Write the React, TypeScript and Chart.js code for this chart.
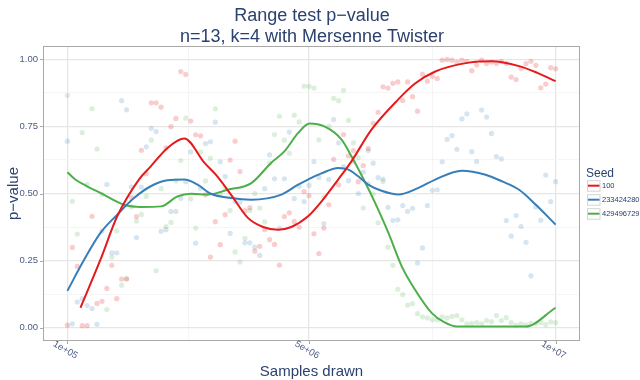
import React, { useEffect, useRef } from "react";
import { Chart, registerables } from "chart.js";

Chart.register(...registerables);

// Samples drawn, in units of 1e5
const samplesE5 = [
  1, 2, 3, 4, 5, 6, 7, 8, 9, 10, 11, 12, 13, 14, 15, 16, 17, 18, 19, 20,
  21, 22, 23, 24, 25, 26, 27, 28, 29, 30, 31, 32, 33, 34, 35, 36, 37, 38, 39, 40,
  41, 42, 43, 44, 45, 46, 47, 48, 49, 50, 51, 52, 53, 54, 55, 56, 57, 58, 59, 60,
  61, 62, 63, 64, 65, 66, 67, 68, 69, 70, 71, 72, 73, 74, 75, 76, 77, 78, 79, 80,
  81, 82, 83, 84, 85, 86, 87, 88, 89, 90, 91, 92, 93, 94, 95, 96, 97, 98, 99, 100,
];

const seedNames = ["100", "233424280", "429496729"];

const pRed = [
  0.009, 0.299, 0.228, 0.007, 0.007, 0.415, 0.09, 0.098, 0.146, 0.232,
  0.108, 0.181, 0.181, 0.486, 0.414, 0.661, 0.574, 0.838, 0.838, 0.822,
  0.67, 0.749, 0.78, 0.955, 0.944, 0.77, 0.719, 0.715, 0.495, 0.263,
  0.395, 0.309, 0.421, 0.625, 0.695, 0.582, 0.436, 0.447, 0.285, 0.303,
  0.365, 0.328, 0.31, 0.233, 0.414, 0.428, 0.396, 0.374, 0.507, 0.492,
  0.35, 0.276, 0.371, 0.458, 0.627, 0.532, 0.72, 0.64, 0.66, 0.544,
  0.604, 0.668, 0.762, 0.803, 0.898, 0.893, 0.911, 0.916, 0.847, 0.916,
  0.861, 0.807, 0.945, 0.919, 0.937, 0.929, 0.997, 1.0, 0.997, 0.989,
  0.997, 0.993, 0.958, 0.979, 0.997, 0.985, 0.99, 0.985, 0.993, 0.985,
  0.934, 0.925, 0.966, 0.984, 0.993, 0.978, 0.894, 0.908, 0.969, 0.965,
];

const pBlue = [
  0.695, 0.014, 0.095, 0.108, 0.082, 0.071, 0.012, 0.36, 0.534, 0.279,
  0.279, 0.846, 0.812, 0.524, 0.336, 0.524, 0.674, 0.743, 0.731, 0.359,
  0.365, 0.433, 0.433, 0.482, 0.544, 0.655, 0.315, 0.52, 0.686, 0.693,
  0.766, 0.618, 0.563, 0.351, 0.47, 0.467, 0.316, 0.316, 0.3, 0.269,
  0.518, 0.644, 0.555, 0.37, 0.555, 0.729, 0.481, 0.527, 0.47, 0.53,
  0.619, 0.56, 0.388, 0.552, 0.776, 0.689, 0.6, 0.548, 0.62, 0.5,
  0.58, 0.66, 0.613, 0.559, 0.554, 0.448, 0.399, 0.402, 0.455, 0.433,
  0.445, 0.241, 0.297, 0.455, 0.512, 0.514, 0.618, 0.702, 0.716, 0.665,
  0.778, 0.797, 0.656, 0.619, 0.811, 0.785, 0.724, 0.638, 0.629, 0.399,
  0.341, 0.418, 0.377, 0.318, 0.193, 0.45, 0.4, 0.569, 0.47, 0.544,
];

const pGreen = [
  0.866, 0.471, 0.349, 0.727, 0.534, 0.816, 0.666, 0.497, 0.067, 0.263,
  0.361, 0.158, 0.183, 0.45, 0.397, 0.422, 0.489, 0.699, 0.212, 0.518,
  0.377, 0.392, 0.547, 0.623, 0.781, 0.48, 0.371, 0.654, 0.547, 0.631,
  0.816, 0.5, 0.52, 0.437, 0.282, 0.245, 0.333, 0.437, 0.5, 0.446,
  0.394, 0.613, 0.72, 0.788, 0.699, 0.65, 0.792, 0.767, 0.9, 0.9,
  0.893, 0.7, 0.487, 0.75, 0.855, 0.846, 0.885, 0.773, 0.689, 0.633,
  0.446, 0.538, 0.498, 0.391, 0.545, 0.3, 0.232, 0.143, 0.123, 0.084,
  0.089, 0.052, 0.04, 0.036, 0.029, 0.029, 0.04, 0.036, 0.042, 0.045,
  0.029, 0.014, 0.016, 0.019, 0.014, 0.026, 0.022, 0.045, 0.026, 0.037,
  0.019, 0.009, 0.014, 0.01, 0.016, 0.014, 0.019, 0.011, 0.021, 0.019,
];

// Smoothed curves, x in units of 1e6
const smoothRedX = [0.365, 0.77, 1.11, 1.55, 1.79, 2.13, 2.47, 2.88, 3.11, 3.42, 3.76, 4.07, 4.37, 4.64, 4.98, 5.25, 5.59, 5.86, 6.27, 6.81, 7.15, 7.56, 8.24, 8.71, 9.26, 9.63, 10.0];
const smoothRedY = [0.074, 0.253, 0.415, 0.552, 0.601, 0.67, 0.705, 0.614, 0.57, 0.495, 0.409, 0.375, 0.365, 0.375, 0.415, 0.47, 0.552, 0.62, 0.739, 0.851, 0.91, 0.955, 0.988, 0.993, 0.975, 0.95, 0.919];

const smoothBlueX = [0.1, 0.43, 0.77, 1.11, 1.45, 1.79, 2.13, 2.47, 2.74, 3.01, 3.42, 3.83, 4.44, 4.78, 4.98, 5.25, 5.59, 5.8, 5.99, 6.2, 6.47, 6.81, 7.22, 7.56, 8.1, 8.58, 8.92, 9.26, 9.6, 10.0];
const smoothBlueY = [0.137, 0.25, 0.353, 0.421, 0.483, 0.527, 0.549, 0.552, 0.533, 0.499, 0.483, 0.477, 0.496, 0.533, 0.552, 0.575, 0.595, 0.589, 0.565, 0.533, 0.51, 0.496, 0.521, 0.552, 0.585, 0.57, 0.545, 0.514, 0.458, 0.384];

const smoothGreenX = [0.1, 0.26, 0.5, 0.77, 1.25, 1.59, 2.0, 2.33, 2.6, 2.95, 3.35, 3.83, 4.23, 4.5, 4.78, 5.01, 5.32, 5.66, 5.86, 6.13, 6.34, 6.61, 6.88, 7.15, 7.49, 7.74, 8.0, 9.39, 10.0];
const smoothGreenY = [0.579, 0.552, 0.527, 0.502, 0.458, 0.45, 0.452, 0.489, 0.499, 0.496, 0.514, 0.539, 0.614, 0.657, 0.726, 0.761, 0.749, 0.701, 0.639, 0.545, 0.465, 0.353, 0.228, 0.141, 0.054, 0.02, 0.004, 0.004, 0.074];

const xMajorTicks = [1e5, 5e6, 1e7];
const xMajorLabels = ["1e+05", "5e+06", "1e+07"];
const xMinorTicks = [2.55e6, 7.5e6];
const yMajorTicks = [0, 0.25, 0.5, 0.75, 1];
const yMajorLabels = ["0.00", "0.25", "0.50", "0.75", "1.00"];
const yMinorTicks = [0.125, 0.375, 0.625, 0.875];

const lineColors = ["#E41A1C", "#377EB8", "#4DAF4A"];
const pointColors = ["rgba(228,26,28,0.22)", "rgba(55,126,184,0.2)", "rgba(77,175,74,0.2)"];

const TITLE_COLOR = "#2B4170";
const TICK_COLOR = "#4A5A82";
const FONT = "'Liberation Sans', Arial, Helvetica, sans-serif";

function App() {
  const ref = useRef<HTMLCanvasElement | null>(null);

  useEffect(() => {
    document.body.style.margin = "0";
    const canvas = ref.current;
    if (!canvas) return;

    const pts = (ys: number[]) => samplesE5.map((s, i) => ({ x: s * 1e5, y: ys[i] }));
    const curve = (xs: number[], ys: number[]) => xs.map((x, i) => ({ x: x * 1e6, y: ys[i] }));

    const series = [pRed, pBlue, pGreen];
    const curves = [
      curve(smoothRedX, smoothRedY),
      curve(smoothBlueX, smoothBlueY),
      curve(smoothGreenX, smoothGreenY),
    ];

    const datasets: any[] = [];
    series.forEach((ys, k) => {
      datasets.push({
        type: "scatter",
        label: seedNames[k] + " points",
        data: pts(ys),
        backgroundColor: pointColors[k],
        borderWidth: 0,
        pointRadius: 2.6,
        order: 2,
      });
    });
    curves.forEach((c, k) => {
      datasets.push({
        type: "line",
        label: seedNames[k],
        data: c,
        borderColor: lineColors[k],
        borderWidth: 2,
        pointRadius: 0,
        tension: 0.4,
        cubicInterpolationMode: "monotone",
        fill: false,
        order: 1,
      });
    });

    const overlay = {
      id: "overlay",
      afterDraw(chart: any) {
        const ctx = chart.ctx;
        const { left, right, top, bottom } = chart.chartArea;
        const xs = chart.scales.x;
        const ys = chart.scales.y;
        ctx.save();
        // panel border
        ctx.strokeStyle = "#A9A9A9";
        ctx.lineWidth = 1;
        ctx.strokeRect(Math.round(left) + 0.5, Math.round(top) + 0.5, Math.round(right - left) - 1, Math.round(bottom - top) - 1);
        // tick marks
        ctx.beginPath();
        yMajorTicks.forEach((v) => {
          const y = Math.round(ys.getPixelForValue(v)) + 0.5;
          ctx.moveTo(left - 3, y);
          ctx.lineTo(left, y);
        });
        xMajorTicks.forEach((v) => {
          const x = Math.round(xs.getPixelForValue(v)) + 0.5;
          ctx.moveTo(x, bottom);
          ctx.lineTo(x, bottom + 3);
        });
        ctx.stroke();

        // y tick labels
        ctx.fillStyle = TICK_COLOR;
        ctx.font = `9.5px ${FONT}`;
        ctx.textAlign = "right";
        ctx.textBaseline = "middle";
        yMajorTicks.forEach((v, i) => {
          ctx.fillText(yMajorLabels[i], left - 5, ys.getPixelForValue(v));
        });
        // x tick labels, rotated
        ctx.textAlign = "center";
        xMajorTicks.forEach((v, i) => {
          const x = xs.getPixelForValue(v);
          ctx.save();
          ctx.translate(x - 2, bottom + 9);
          ctx.rotate(Math.PI / 6);
          ctx.fillText(xMajorLabels[i], 0, 0);
          ctx.restore();
        });

        // titles
        ctx.fillStyle = TITLE_COLOR;
        ctx.textAlign = "center";
        ctx.textBaseline = "alphabetic";
        ctx.font = `18px ${FONT}`;
        ctx.fillText("Range test p\u2212value", 312, 21);
        ctx.fillText("n=13, k=4 with Mersenne Twister", 312, 42);

        ctx.font = `15px ${FONT}`;
        ctx.fillText("Samples drawn", (left + right) / 2, 376);
        ctx.save();
        ctx.translate(14, (top + bottom) / 2);
        ctx.rotate(-Math.PI / 2);
        ctx.textBaseline = "middle";
        ctx.fillText("p\u2212value", 0, 0);
        ctx.restore();

        // legend
        ctx.textAlign = "left";
        ctx.font = `12px ${FONT}`;
        ctx.fillText("Seed", 586, 176.5);
        const rows = [185.7, 199.7, 213.7];
        ctx.font = `7.5px ${FONT}`;
        ctx.textBaseline = "middle";
        seedNames.forEach((name, k) => {
          const cy = rows[k];
          ctx.fillStyle = "#FFFFFF";
          ctx.fillRect(587, cy - 5.5, 13, 11);
          ctx.strokeStyle = "#D4D4D4";
          ctx.lineWidth = 1;
          ctx.strokeRect(587.5, cy - 5, 12.5, 10.5);
          ctx.strokeStyle = lineColors[k];
          ctx.lineWidth = 2;
          ctx.beginPath();
          ctx.moveTo(588, cy);
          ctx.lineTo(599.5, cy);
          ctx.stroke();
          ctx.fillStyle = TITLE_COLOR;
          ctx.fillText(name, 602, cy + 0.5);
        });
        ctx.restore();
      },
    };

    const xTickVals = [...xMajorTicks, ...xMinorTicks].sort((a, b) => a - b);
    const yTickVals = [...yMajorTicks, ...yMinorTicks].sort((a, b) => a - b);

    const chart = new Chart(canvas, {
      type: "scatter",
      data: { datasets },
      plugins: [overlay],
      options: {
        responsive: false,
        animation: false,
        events: [],
        layout: { padding: { left: 43, right: 60, top: 46, bottom: 39 } },
        plugins: {
          legend: { display: false },
          title: { display: false },
          tooltip: { enabled: false },
        },
        scales: {
          x: {
            type: "linear",
            min: -395000,
            max: 10495000,
            afterBuildTicks: (s: any) => {
              s.ticks = xTickVals.map((v) => ({ value: v }));
            },
            afterFit: (s: any) => {
              s.height = 0;
            },
            ticks: { display: false },
            border: { display: false },
            grid: {
              drawTicks: false,
              color: (c: any) => (xMajorTicks.includes(c.tick?.value) ? "#E6E6E6" : "#F2F2F2"),
              lineWidth: (c: any) => (xMajorTicks.includes(c.tick?.value) ? 1.3 : 0.8),
            },
          },
          y: {
            type: "linear",
            min: -0.05,
            max: 1.05,
            afterBuildTicks: (s: any) => {
              s.ticks = yTickVals.map((v) => ({ value: v }));
            },
            afterFit: (s: any) => {
              s.width = 0;
            },
            ticks: { display: false },
            border: { display: false },
            grid: {
              drawTicks: false,
              color: (c: any) => (yMajorTicks.includes(c.tick?.value) ? "#E6E6E6" : "#F2F2F2"),
              lineWidth: (c: any) => (yMajorTicks.includes(c.tick?.value) ? 1.3 : 0.8),
            },
          },
        },
      } as any,
    });

    return () => chart.destroy();
  }, []);

  return (
    <div style={{ width: 640, height: 380 }}>
      <canvas ref={ref} width={640} height={380} style={{ display: "block", width: 640, height: 380 }} />
    </div>
  );
}

export default App;
